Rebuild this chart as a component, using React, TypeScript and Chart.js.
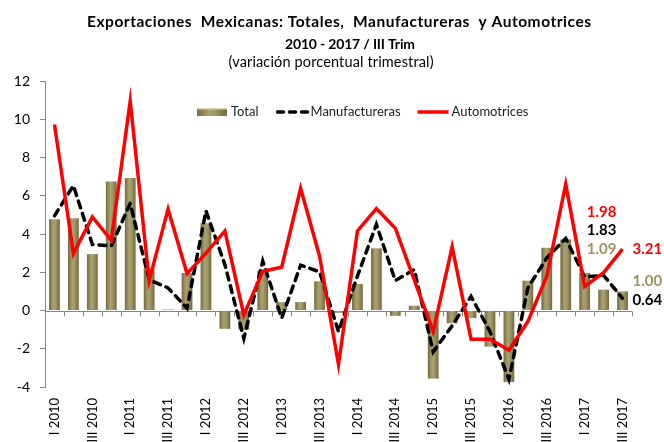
import React, { useEffect, useRef } from 'react';
import { Chart, registerables } from 'chart.js';

Chart.register(...registerables);

const categories = [
  'I 2010', 'II 2010', 'III 2010', 'IV 2010',
  'I 2011', 'II 2011', 'III 2011', 'IV 2011',
  'I 2012', 'II 2012', 'III 2012', 'IV 2012',
  'I 2013', 'II 2013', 'III 2013', 'IV 2013',
  'I 2014', 'II 2014', 'III 2014', 'IV 2014',
  'I 2015', 'II 2015', 'III 2015', 'IV 2015',
  'I 2016', 'II 2016', 'III 2016', 'IV 2016',
  'I 2017', 'II 2017', 'III 2017',
];

const total = [
  4.77, 4.82, 2.95, 6.74, 6.93, 2.23, 0.05, 1.96,
  4.56, -0.96, -1.0, 2.09, 0.44, 0.44, 1.53, -0.12,
  1.39, 3.25, -0.28, 0.25, -3.56, -0.67, -0.4, -1.89,
  -3.74, 1.56, 3.28, 3.72, 1.96, 1.09, 1.0,
];

const manufactureras = [
  4.95, 6.53, 3.46, 3.37, 5.6, 1.61, 1.18, 0.12,
  5.21, 2.4, -1.46, 2.58, -0.4, 2.37, 2.02, -1.1,
  1.8, 4.5, 1.56, 2.14, -2.16, -0.8, 0.74, -1.1,
  -3.6, 1.18, 2.75, 3.77, 1.75, 1.83, 0.64,
];

const automotrices = [
  9.72, 2.98, 4.89, 3.67, 10.95, 1.56, 5.3, 1.93,
  3.0, 4.16, -0.23, 2.05, 2.26, 6.39, 2.84, -2.82,
  4.16, 5.33, 4.3, 1.6, -1.1, 3.33, -1.5, -1.5,
  -2.07, -0.58, 1.79, 6.61, 1.26, 1.98, 3.21,
];

const seriesNames = ['Total', 'Manufactureras', 'Automotrices'];
const titleLines = [
  'Exportaciones  Mexicanas: Totales,  Manufactureras  y Automotrices',
  '2010 - 2017 / III Trim',
];
const subtitleText = '(variación porcentual trimestral)';
const yMin = -4;
const yMax = 12;
const yStep = 2;

const FONT = 'Lato, "Liberation Sans", sans-serif';
const RED = '#ff0000';
const OLIVE_TEXT = '#9d9463';
const AXIS_GRAY = '#868686';
const BAR_PCT = 0.57;

function oliveGradient(ctx: CanvasRenderingContext2D, x0: number, x1: number) {
  const g = ctx.createLinearGradient(x0, 0, x1, 0);
  g.addColorStop(0, '#736b40');
  g.addColorStop(0.4, '#aaa170');
  g.addColorStop(0.6, '#a29968');
  g.addColorStop(1, '#716a3f');
  return g;
}

const titlePlugin = {
  id: 'titleBlock',
  afterDraw(chart: any) {
    const { ctx } = chart;
    const specs = [
      { text: titleLines[0], weight: 'bold', size: 15.5, width: 504, cx: 339, base: 27 },
      { text: titleLines[1], weight: 'bold', size: 14, width: 130, cx: 350, base: 48.5 },
      { text: subtitleText, weight: 'normal', size: 14.5, width: 205, cx: 331, base: 67 },
    ];
    ctx.save();
    ctx.fillStyle = '#000';
    ctx.textBaseline = 'alphabetic';
    ctx.textAlign = 'left';
    for (const s of specs) {
      ctx.font = `${s.weight} ${s.size}px ${FONT}`;
      (ctx as any).letterSpacing = '0px';
      const w = ctx.measureText(s.text).width;
      const n = Math.max(s.text.length - 1, 1);
      const ls = (s.width - w) / n;
      (ctx as any).letterSpacing = `${ls}px`;
      ctx.fillText(s.text, s.cx - s.width / 2, s.base);
    }
    (ctx as any).letterSpacing = '0px';
    ctx.restore();
  },
};

const zeroAxisPlugin = {
  id: 'zeroAxis',
  beforeDatasetsDraw(chart: any) {
    const { ctx, chartArea, scales } = chart;
    const xs = scales.x;
    const ys = scales.y;
    const y0 = Math.round(ys.getPixelForValue(0)) + 0.5;
    ctx.save();
    ctx.strokeStyle = AXIS_GRAY;
    ctx.lineWidth = 1;
    ctx.beginPath();
    ctx.moveTo(chartArea.left, y0);
    ctx.lineTo(chartArea.right, y0);
    const n = categories.length;
    for (let i = 0; i <= n; i++) {
      let bx;
      if (i === 0) bx = chartArea.left;
      else if (i === n) bx = chartArea.right;
      else bx = (xs.getPixelForValue(i - 1) + xs.getPixelForValue(i)) / 2;
      bx = Math.round(bx) + 0.5;
      ctx.moveTo(bx, y0);
      ctx.lineTo(bx, y0 + 5);
    }
    ctx.stroke();
    ctx.restore();
  },
};

const legendPlugin = {
  id: 'customLegend',
  afterDraw(chart: any) {
    const { ctx, chartArea } = chart;
    const cy = chartArea.top + 31;
    let x = chartArea.left + 152;
    ctx.save();
    ctx.font = `13px ${FONT}`;
    ctx.textBaseline = 'middle';
    ctx.textAlign = 'left';
    ctx.fillStyle = oliveGradient(ctx, x, x + 30);
    ctx.fillRect(x, cy - 4, 30, 8);
    ctx.fillStyle = '#d8d2a6';
    ctx.fillRect(x, cy - 4, 30, 1.5);
    x += 34;
    ctx.fillStyle = '#1a1a1a';
    ctx.fillText(seriesNames[0], x, cy);
    x += ctx.measureText(seriesNames[0]).width + 17;
    ctx.strokeStyle = '#000';
    ctx.lineWidth = 3.5;
    ctx.lineCap = 'round';
    ctx.setLineDash([6, 6]);
    ctx.beginPath();
    ctx.moveTo(x + 2, cy);
    ctx.lineTo(x + 32, cy);
    ctx.stroke();
    ctx.setLineDash([]);
    x += 35;
    ctx.fillText(seriesNames[1], x, cy);
    x += ctx.measureText(seriesNames[1]).width + 17;
    ctx.strokeStyle = RED;
    ctx.lineCap = 'butt';
    ctx.beginPath();
    ctx.moveTo(x, cy);
    ctx.lineTo(x + 31, cy);
    ctx.stroke();
    x += 34;
    ctx.fillText(seriesNames[2], x, cy);
    ctx.restore();
  },
};

const endLabelsPlugin = {
  id: 'endLabels',
  afterDatasetsDraw(chart: any) {
    const { ctx, scales } = chart;
    const xs = scales.x;
    const ys = scales.y;
    const iPrev = categories.length - 2;
    const iLast = categories.length - 1;
    ctx.save();
    ctx.font = `bold 15px ${FONT}`;
    ctx.textBaseline = 'middle';
    ctx.textAlign = 'center';
    const xa = xs.getPixelForValue(iPrev) - 2;
    const ya = ys.getPixelForValue(automotrices[iPrev]);
    ctx.fillStyle = RED;
    ctx.fillText(automotrices[iPrev].toFixed(2), xa, ya - 60);
    ctx.fillStyle = '#000';
    ctx.fillText(manufactureras[iPrev].toFixed(2), xa, ya - 42);
    ctx.fillStyle = OLIVE_TEXT;
    ctx.fillText(total[iPrev].toFixed(2), xa, ya - 23);
    ctx.textAlign = 'left';
    const xb = xs.getPixelForValue(iLast) + 10;
    ctx.fillStyle = RED;
    ctx.fillText(automotrices[iLast].toFixed(2), xb, ys.getPixelForValue(automotrices[iLast]));
    ctx.fillStyle = OLIVE_TEXT;
    ctx.fillText(total[iLast].toFixed(2), xb, ys.getPixelForValue(total[iLast]) - 10);
    ctx.fillStyle = '#000';
    ctx.fillText(manufactureras[iLast].toFixed(2), xb, ys.getPixelForValue(manufactureras[iLast]) + 2);
    ctx.restore();
  },
};

export default function App() {
  const ref = useRef<HTMLCanvasElement>(null);

  useEffect(() => {
    if (!ref.current) return;
    const chart = new Chart(ref.current, {
      type: 'bar',
      data: {
        labels: categories,
        datasets: [
          {
            type: 'bar',
            label: seriesNames[0],
            data: total,
            order: 3,
            barPercentage: BAR_PCT,
            categoryPercentage: 1,
            borderWidth: 0,
            backgroundColor: (c: any) => {
              const ch = c.chart;
              const xs = ch.scales && ch.scales.x;
              if (!xs || c.dataIndex == null || !ch.chartArea) return '#968e5e';
              const cx = xs.getPixelForValue(c.dataIndex);
              const w = (xs.width / categories.length) * BAR_PCT;
              return oliveGradient(ch.ctx, cx - w / 2, cx + w / 2);
            },
          },
          {
            type: 'line',
            label: seriesNames[1],
            data: manufactureras,
            order: 2,
            borderColor: '#000',
            borderWidth: 3.5,
            borderDash: [7, 6],
            borderCapStyle: 'round',
            pointRadius: 0,
            tension: 0,
            fill: false,
          },
          {
            type: 'line',
            label: seriesNames[2],
            data: automotrices,
            order: 1,
            borderColor: RED,
            borderWidth: 3.5,
            pointRadius: 0,
            tension: 0,
            fill: false,
          },
        ],
      },
      options: {
        responsive: false,
        animation: false,
        devicePixelRatio: 1,
        layout: { padding: { left: 0, right: 32, top: 81, bottom: 0 } },
        plugins: {
          legend: { display: false },
          tooltip: { enabled: false },
          title: { display: false },
          subtitle: { display: false },
        },
        scales: {
          x: {
            offset: true,
            grid: { display: false, drawTicks: false },
            border: { display: false },
            ticks: {
              autoSkip: false,
              minRotation: 90,
              maxRotation: 90,
              padding: 11,
              color: '#000',
              font: { family: FONT, size: 13 },
              callback: (_v: any, i: number) => (i % 2 === 0 ? categories[i] : ''),
            },
            afterFit: (s: any) => {
              s.height = 55;
            },
          },
          y: {
            min: yMin,
            max: yMax,
            border: { display: true, color: AXIS_GRAY },
            grid: {
              drawOnChartArea: false,
              drawTicks: true,
              tickLength: 5,
              tickColor: AXIS_GRAY,
            },
            ticks: {
              stepSize: yStep,
              padding: 10,
              color: '#000',
              font: { family: FONT, size: 14 },
            },
            afterFit: (s: any) => {
              s.width = 45;
            },
          },
        },
      },
      plugins: [zeroAxisPlugin, endLabelsPlugin, legendPlugin, titlePlugin],
    } as any);
    return () => chart.destroy();
  }, []);

  return (
    <div style={{ position: 'absolute', left: 0, top: 0, width: 664, height: 442, background: '#fff', overflow: 'hidden' }}>
      <canvas ref={ref} width={664} height={442} style={{ display: 'block' }} />
    </div>
  );
}
